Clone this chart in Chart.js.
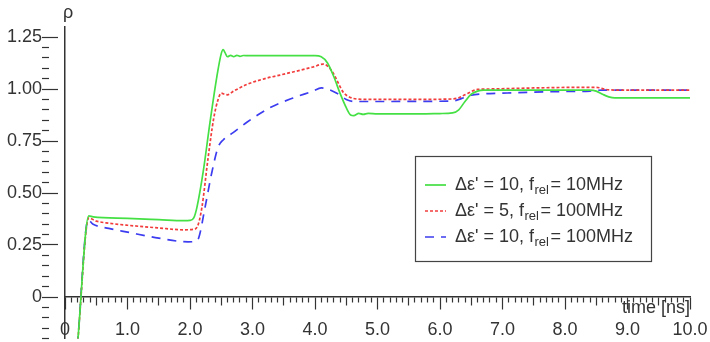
<!DOCTYPE html>
<html>
<head>
<meta charset="utf-8">
<script src="https://cdn.jsdelivr.net/npm/chart.js@4/dist/chart.umd.min.js"></script>
<style>
  html, body { margin: 0; padding: 0; background: #fff; }
  #wrap { width: 710px; height: 342px; position: relative; }
</style>
</head>
<body>
<div id="wrap"><canvas id="rho-chart"></canvas></div>
<script>
// Δε' = 10, frel = 10MHz
const timeA = [0.20, 0.38, 0.45, 1.0, 1.5, 1.9, 2.0, 2.06, 2.11, 2.21, 2.32, 2.43, 2.50, 2.53, 2.56, 2.60, 2.65, 2.70, 2.75, 2.80, 2.85, 2.95, 3.5, 4.0, 4.1, 4.2, 4.3, 4.4, 4.5, 4.57, 4.62, 4.70, 4.77, 4.85, 5.0, 5.5, 6.0, 6.2, 6.3, 6.4, 6.5, 6.6, 6.7, 7.0, 7.5, 8.0, 8.4, 8.5, 8.6, 8.7, 8.8, 9.0, 10.0];
const rhoA  = [-0.23, 0.39, 0.385, 0.378, 0.372, 0.367, 0.368, 0.38, 0.43, 0.60, 0.84, 1.06, 1.17, 1.19, 1.175, 1.155, 1.162, 1.156, 1.162, 1.157, 1.161, 1.16, 1.16, 1.16, 1.155, 1.125, 1.06, 0.98, 0.91, 0.875, 0.872, 0.883, 0.878, 0.883, 0.88, 0.88, 0.882, 0.885, 0.90, 0.94, 0.975, 0.99, 0.995, 0.995, 0.995, 0.995, 0.995, 0.99, 0.975, 0.962, 0.957, 0.957, 0.957];

// Δε' = 5, frel = 100MHz
const timeB = [0.20, 0.38, 0.5, 0.7, 1.0, 1.5, 1.9, 2.05, 2.12, 2.19, 2.29, 2.38, 2.45, 2.50, 2.55, 2.60, 2.70, 2.91, 3.2, 3.44, 3.97, 4.13, 4.2, 4.29, 4.37, 4.45, 4.53, 4.61, 4.8, 5.5, 6.2, 6.3, 6.45, 6.6, 6.8, 7.5, 8.3, 8.5, 8.65, 8.8, 10.0];
const rhoB  = [-0.23, 0.38, 0.365, 0.355, 0.345, 0.332, 0.323, 0.325, 0.34, 0.43, 0.67, 0.86, 0.95, 0.98, 0.975, 0.972, 0.99, 1.022, 1.05, 1.067, 1.106, 1.12, 1.11, 1.077, 1.03, 0.985, 0.965, 0.955, 0.95, 0.95, 0.952, 0.958, 0.98, 0.998, 1.0, 1.005, 1.008, 1.008, 0.998, 0.995, 0.995];

// Δε' = 10, frel = 100MHz
const timeC = [0.20, 0.37, 0.45, 0.7, 1.0, 1.5, 1.97, 2.08, 2.14, 2.24, 2.35, 2.45, 2.53, 2.69, 2.91, 3.28, 3.65, 3.97, 4.1, 4.2, 4.35, 4.5, 4.62, 5.0, 6.2, 6.35, 6.5, 6.65, 7.0, 7.5, 8.0, 8.4, 8.6, 8.8, 10.0];
const rhoC  = [-0.23, 0.37, 0.35, 0.33, 0.312, 0.283, 0.265, 0.268, 0.285, 0.43, 0.60, 0.72, 0.755, 0.79, 0.84, 0.91, 0.957, 0.99, 1.005, 1.0, 0.98, 0.95, 0.94, 0.94, 0.942, 0.955, 0.97, 0.976, 0.98, 0.985, 0.988, 0.99, 0.995, 0.995, 0.995];

const seriesDelta = ['10', '5', '10'];
const seriesFreq  = ['10MHz', '100MHz', '100MHz'];
const yLabelTicks = [0, 0.25, 0.5, 0.75, 1.0, 1.25];

const FONT = 'Liberation Sans, Arial, sans-serif';
const INK  = '#333';

Chart.defaults.font.family = FONT;
Chart.defaults.font.size   = 18;
Chart.defaults.color       = INK;

const pts  = (xs, ys) => xs.map((x, i) => ({ x: x, y: ys[i] }));
const near = (v, step) => Math.abs(v / step - Math.round(v / step)) < 1e-6;

// legend box + axis captions (Chart.js legend can't do subscripts)
const extrasPlugin = {
  id: 'extras',
  afterDraw(chart) {
    const ctx = chart.ctx;
    ctx.save();
    ctx.fillStyle = INK;
    ctx.font = '18px ' + FONT;
    ctx.textBaseline = 'middle';
    ctx.textAlign = 'center';
    ctx.fillText('ρ', 68, 13);
    ctx.textAlign = 'right';
    ctx.fillText('time [ns]', 690, 308);

    ctx.strokeStyle = '#444';
    ctx.lineWidth = 1.2;
    ctx.strokeRect(415.5, 156.5, 236, 105);

    const rows = [185, 211, 237];
    chart.data.datasets.forEach((ds, i) => {
      const y = rows[i];
      ctx.beginPath();
      ctx.setLineDash(ds.borderDash || []);
      ctx.strokeStyle = ds.borderColor;
      ctx.lineWidth = ds.borderWidth;
      ctx.moveTo(425, y);
      ctx.lineTo(446, y);
      ctx.stroke();
      ctx.setLineDash([]);

      ctx.textAlign = 'left';
      ctx.fillStyle = INK;
      ctx.font = '18px ' + FONT;
      let x = 455;
      const head = 'Δε\' = ' + seriesDelta[i] + ', f';
      ctx.fillText(head, x, y);
      x += ctx.measureText(head).width + 0.5;
      ctx.font = '13px ' + FONT;
      ctx.fillText('rel', x, y + 5);
      x += ctx.measureText('rel').width + 1.5;
      ctx.font = '18px ' + FONT;
      ctx.fillText('= ' + seriesFreq[i], x, y);
    });
    ctx.restore();
  }
};

new Chart(document.querySelector('#rho-chart'), {
  type: 'line',
  data: {
    datasets: [
      { label: 'A', data: pts(timeA, rhoA), borderColor: '#44e044', borderWidth: 1.7, pointRadius: 0, cubicInterpolationMode: 'monotone' },
      { label: 'B', data: pts(timeB, rhoB), borderColor: '#f23c3c', borderWidth: 1.7, borderDash: [3, 2], pointRadius: 0, cubicInterpolationMode: 'monotone' },
      { label: 'C', data: pts(timeC, rhoC), borderColor: '#3c3cf0', borderWidth: 1.7, borderDash: [9, 7], pointRadius: 0, cubicInterpolationMode: 'monotone' }
    ]
  },
  options: {
    responsive: true,
    maintainAspectRatio: false,
    animation: false,
    layout: { padding: { left: 0, right: 20, top: 26.6, bottom: 3.4 } },
    plugins: { legend: { display: false }, tooltip: { enabled: false } },
    scales: {
      x: {
        type: 'linear',
        position: { y: 0 },
        min: 0,
        max: 10,
        border: { display: true, color: INK, width: 1.5 },
        grid: {
          drawOnChartArea: false,
          drawTicks: true,
          tickLength: 20,
          tickColor: INK,
          tickWidth: 1.2,
          tickBorderDash: c => near(c.tick.value, 1) ? [12, 40] : (near(c.tick.value, 0.5) ? [8, 40] : [5, 40])
        },
        ticks: {
          stepSize: 0.1,
          maxTicksLimit: 500,
          autoSkip: false,
          maxRotation: 0,
          minRotation: 0,
          padding: 2,
          callback: v => near(v, 1) ? (Math.abs(v) < 1e-9 ? '0' : Math.round(v).toFixed(1)) : ''
        }
      },
      y: {
        type: 'linear',
        position: 'left',
        min: -0.2,
        max: 1.3,
        afterFit: scale => { scale.width = 65; },
        border: { display: true, color: INK, width: 1.5 },
        grid: {
          drawOnChartArea: false,
          drawTicks: true,
          tickLength: 23,
          tickColor: INK,
          tickWidth: 1.2,
          tickBorderDash: c => near(c.tick.value, 0.25) ? [16, 40] : [7, 40]
        },
        ticks: {
          stepSize: 0.05,
          maxTicksLimit: 500,
          autoSkip: false,
          padding: 0,
          font: { size: 18, lineHeight: 0.2 },
          callback: v => {
            if (v > 1.27) return null;
            const hit = yLabelTicks.find(t => Math.abs(t - v) < 1e-6);
            if (hit === undefined) return '';
            return hit === 0 ? '0' : hit.toFixed(2);
          }
        }
      }
    }
  },
  plugins: [extrasPlugin]
});
</script>
</body>
</html>
